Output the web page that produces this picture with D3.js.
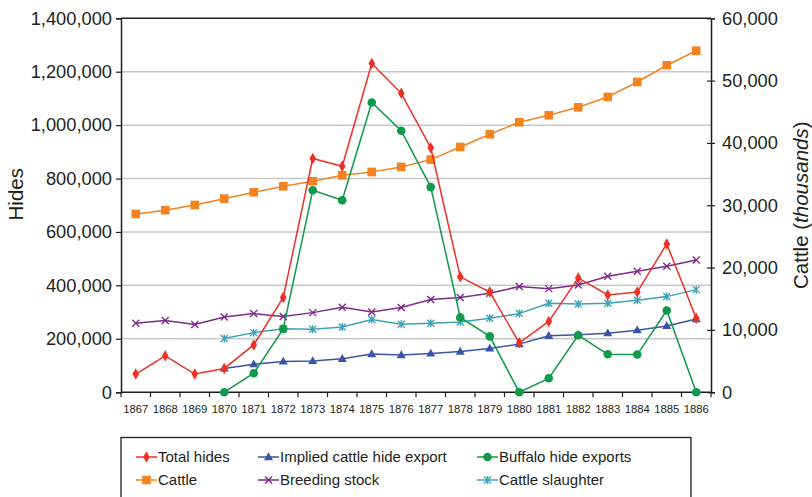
<!DOCTYPE html>
<html><head><meta charset="utf-8">
<script src="https://cdn.jsdelivr.net/npm/d3@7"></script>
<style>body{margin:0;background:#fff;} svg{display:block;font-family:"Liberation Sans",Arial,sans-serif;}</style>
</head><body><svg id="c" width="812" height="497"></svg>
<script>
const years = [1867,1868,1869,1870,1871,1872,1873,1874,1875,1876,1877,1878,1879,1880,1881,1882,1883,1884,1885,1886];
const leftTicks = [0,200000,400000,600000,800000,1000000,1200000,1400000];
const rightTicks = [0,10000,20000,30000,40000,50000,60000];
// left axis (Hides)
const totalHides = [68000,136000,68000,89000,177000,355000,875000,846000,1231000,1119000,915000,432000,375000,185000,265000,428000,364000,375000,555000,277000];
const impliedCattleHideExport = [null,null,null,89000,105000,115000,117000,125000,143000,139000,145000,152000,164000,180000,211000,215000,221000,232000,248000,274000];
const buffaloHideExports = [null,null,null,0,71000,237000,756000,719000,1085000,979000,768000,280000,209000,0,52000,213000,142000,141000,306000,0];
// right axis (Cattle, thousands)
const cattle = [28600,29200,30050,31060,32090,33050,33850,34810,35340,36150,37320,39350,41390,43320,44440,45720,47380,49780,52460,54800];
const breedingStock = [11070,11490,10850,12080,12610,12130,12770,13640,12880,13580,14860,15210,15880,16950,16620,17210,18610,19410,20210,21230];
const cattleSlaughter = [null,null,null,8600,9560,10200,10100,10480,11650,10910,11070,11260,11870,12610,14280,14170,14280,14760,15340,16460];

const series = [
  {name:"Total hides", values: totalHides, axis:"L", color:"#ee3124", marker:"diamond"},
  {name:"Implied cattle hide export", values: impliedCattleHideExport, axis:"L", color:"#3a55a5", marker:"triangle"},
  {name:"Buffalo hide exports", values: buffaloHideExports, axis:"L", color:"#0e9a4a", marker:"circle"},
  {name:"Cattle", values: cattle, axis:"R", color:"#f58220", marker:"square"},
  {name:"Breeding stock", values: breedingStock, axis:"R", color:"#7d2a8c", marker:"x"},
  {name:"Cattle slaughter", values: cattleSlaughter, axis:"R", color:"#3da2b8", marker:"asterisk"}
];

const svg = d3.select("#c");
const L = 121, R = 711, T = 18.3, B = 392.2;
const x = d3.scaleBand().domain(years).range([L, R]);
const yL = d3.scaleLinear().domain([0,1400000]).range([B, T]);
const yR = d3.scaleLinear().domain([0,60000]).range([B, T]);
const txt = "#231f20";

// gridlines
svg.append("g").selectAll("line").data(leftTicks.slice(1, -1)).join("line")
  .attr("x1", L).attr("x2", R).attr("y1", d=>yL(d)).attr("y2", d=>yL(d))
  .attr("stroke", "#c8c8c8").attr("stroke-width", 1.5);
// top frame line
svg.append("line").attr("x1", L).attr("x2", R).attr("y1", T).attr("y2", T).attr("stroke", "#231f20").attr("stroke-width", 1.5);

const fmt = d3.format(",");
const gL = svg.append("g").attr("transform", `translate(${L},0)`)
  .call(d3.axisLeft(yL).tickValues(leftTicks).tickFormat(fmt).tickSize(5).tickPadding(4));
const gR = svg.append("g").attr("transform", `translate(${R},0)`)
  .call(d3.axisRight(yR).tickValues(rightTicks).tickFormat(fmt).tickSize(4).tickPadding(7));
gR.selectAll(".tick line").attr("x1", -4);
const gX = svg.append("g").attr("transform", `translate(0,${B})`)
  .call(d3.axisBottom(x).tickSize(0).tickPadding(13));
// bottom ticks at band boundaries
svg.append("g").selectAll("line").data(d3.range(years.length + 1)).join("line")
  .attr("x1", i => L + i * x.step()).attr("x2", i => L + i * x.step())
  .attr("y1", B).attr("y2", B + 5).attr("stroke", txt).attr("stroke-width", 1.2);

[gL, gR, gX].forEach(g => {
  g.select(".domain").attr("stroke", txt).attr("stroke-width", 1.5);
  g.selectAll(".tick line").attr("stroke", txt).attr("stroke-width", 1.2);
  g.selectAll("text").attr("fill", txt).attr("font-family", "Liberation Sans, Arial, sans-serif");
});
gL.selectAll("text").attr("font-size", 18.3);
gR.selectAll("text").attr("font-size", 18.3);
gX.selectAll("text").attr("font-size", 11.3);
gX.select(".domain").attr("d", `M${L},0H${R}`);

// axis titles
svg.append("text").attr("transform", `translate(23,${(T+B)/2 - 11}) rotate(-90)`)
  .attr("text-anchor", "middle").attr("font-size", 20.5).attr("fill", txt).text("Hides");
const rt = svg.append("text").attr("transform", `translate(808,${(T+B)/2}) rotate(-90)`)
  .attr("text-anchor", "middle").attr("font-size", 20.5).attr("fill", txt);
rt.append("tspan").text("Cattle (");
rt.append("tspan").attr("font-style", "italic").text("thousands");
rt.append("tspan").text(")");

function drawMarker(g, type, color, cx, cy) {
  if (type === "diamond") {
    g.append("path").attr("d", d3.symbol(d3.symbolDiamond, 38)()).attr("transform", `translate(${cx},${cy})`).attr("fill", color);
  } else if (type === "triangle") {
    g.append("path").attr("d", d3.symbol(d3.symbolTriangle, 36)()).attr("transform", `translate(${cx},${cy+0.5})`).attr("fill", color);
  } else if (type === "circle") {
    g.append("circle").attr("cx", cx).attr("cy", cy).attr("r", 4.3).attr("fill", color);
  } else if (type === "square") {
    g.append("rect").attr("x", cx - 4.3).attr("y", cy - 4.3).attr("width", 8.6).attr("height", 8.6).attr("fill", color);
  } else if (type === "x") {
    g.append("path").attr("d", `M${cx-3.5},${cy-3.5}L${cx+3.5},${cy+3.5}M${cx-3.5},${cy+3.5}L${cx+3.5},${cy-3.5}`)
      .attr("stroke", color).attr("stroke-width", 1.4).attr("fill", "none");
  } else if (type === "asterisk") {
    g.append("path").attr("d", `M${cx-3.5},${cy-3.5}L${cx+3.5},${cy+3.5}M${cx-3.5},${cy+3.5}L${cx+3.5},${cy-3.5}M${cx},${cy-4}L${cx},${cy+4}`)
      .attr("stroke", color).attr("stroke-width", 1.4).attr("fill", "none");
  }
}

const drawOrder = [3, 4, 5, 1, 2, 0];
drawOrder.forEach(i => {
  const s = series[i];
  const ys = s.axis === "L" ? yL : yR;
  const pts = years.map((yr, j) => ({yr, v: s.values[j]})).filter(p => p.v != null);
  const line = d3.line().x(p => x(p.yr) + x.bandwidth()/2).y(p => ys(p.v));
  const g = svg.append("g");
  g.append("path").datum(pts).attr("d", line).attr("fill", "none").attr("stroke", s.color).attr("stroke-width", 1.5);
  pts.forEach(p => drawMarker(g, s.marker, s.color, x(p.yr) + x.bandwidth()/2, ys(p.v)));
});

// legend
svg.append("rect").attr("x", 121).attr("y", 437.5).attr("width", 570).attr("height", 70)
  .attr("fill", "none").attr("stroke", txt).attr("stroke-width", 1.3);
const colX = [136, 258, 477];
const rowY = [457, 480];
const legendOrder = [[0,1,2],[3,4,5]];
legendOrder.forEach((row, r) => row.forEach((si, c) => {
  const s = series[si];
  const g = svg.append("g");
  const x0 = colX[c], y0 = rowY[r];
  g.append("line").attr("x1", x0).attr("x2", x0 + 21).attr("y1", y0).attr("y2", y0).attr("stroke", s.color).attr("stroke-width", 1.5);
  drawMarker(g, s.marker, s.color, x0 + 10.5, y0);
  g.append("text").attr("x", x0 + 22).attr("y", y0).attr("dy", "0.35em").attr("font-size", 15).attr("fill", txt).text(s.name);
}));
</script></body></html>
